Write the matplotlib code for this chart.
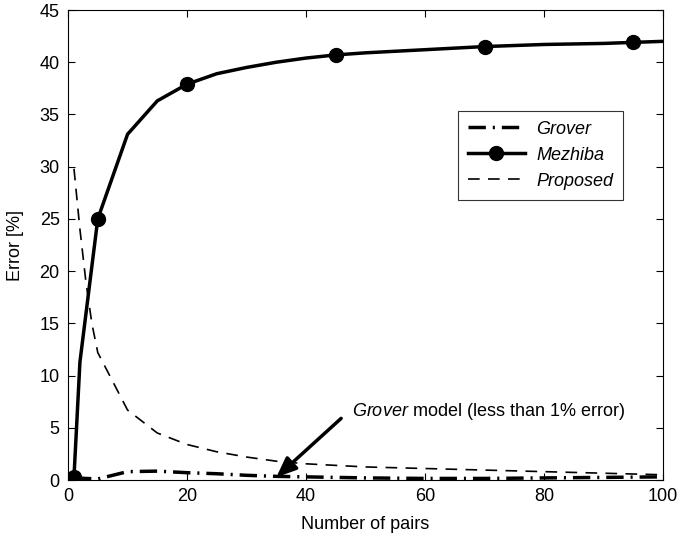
import matplotlib
matplotlib.use("Agg")
import matplotlib.pyplot as plt

plt.rcParams["font.family"] = ["Liberation Sans", "DejaVu Sans"]
plt.rcParams["mathtext.fontset"] = "custom"
plt.rcParams["mathtext.rm"] = "Liberation Sans"
plt.rcParams["mathtext.it"] = "Liberation Sans:italic"

# error vs number of pairs for the three models
mezhiba_x = [1, 2, 5, 10, 15, 20, 25, 30, 35, 40, 45, 50, 55, 60, 65, 70, 75, 80, 85, 90, 95, 100]
mezhiba_y = [0.3, 11.3, 25.0, 33.1, 36.3, 37.9, 38.9, 39.5, 40.0, 40.4, 40.7, 40.9, 41.05, 41.2,
             41.35, 41.5, 41.6, 41.7, 41.75, 41.8, 41.9, 42.0]
mezhiba_marked = [0, 2, 5, 10, 15, 20]

proposed_x = [1, 2, 3, 4, 5, 10, 15, 20, 25, 30, 35, 40, 50, 60, 70, 80, 90, 100]
proposed_y = [29.8, 24.0, 19.0, 15.0, 12.2, 6.7, 4.5, 3.4, 2.7, 2.2, 1.8, 1.55, 1.25, 1.1, 0.95,
              0.8, 0.65, 0.5]

grover_x = [1, 5, 10, 15, 20, 25, 30, 35, 40, 50, 60, 70, 80, 90, 100]
grover_y = [0.2, 0.1, 0.8, 0.85, 0.7, 0.6, 0.45, 0.35, 0.3, 0.2, 0.15, 0.15, 0.2, 0.25, 0.3]

fig = plt.figure(figsize=(6.81, 5.38), dpi=100)
ax = fig.add_axes([0.0999, 0.1078, 0.8737, 0.8736])

ax.plot(grover_x, grover_y, color="black", lw=2.5, dashes=(5, 2, 0.6, 2), label="Grover")
ax.plot(mezhiba_x, mezhiba_y, color="black", lw=2.5, marker="o", markersize=10,
        markevery=mezhiba_marked, label="Mezhiba")
ax.plot(proposed_x, proposed_y, color="black", lw=1.2, dashes=(7, 5), label="Proposed")

# arrow pointing at the Grover curve
ax.annotate("", xy=(35.0, 0.26), xytext=(45.9, 5.9),
            arrowprops=dict(arrowstyle="-|>,head_length=1.2,head_width=0.5",
                            color="black", lw=2.5, shrinkA=0, shrinkB=0))
ax.text(47.8, 6.6, r"$\it{Grover}$ model (less than 1% error)", fontsize=13,
        va="center", ha="left")

ax.set_xlim(0, 100)
ax.set_ylim(0, 45)
ax.set_xticks(range(0, 101, 20))
ax.set_yticks(range(0, 46, 5))
ax.tick_params(direction="in", top=True, right=True, labelsize=13, length=5, pad=6)
ax.set_xlabel("Number of pairs", fontsize=13, labelpad=8)
ax.set_ylabel("Error [%]", fontsize=13, labelpad=11)

leg = ax.legend(loc="upper right", bbox_to_anchor=(0.948, 0.805),
                prop={"style": "italic", "size": 13}, fancybox=False, edgecolor="black",
                handlelength=3.2, handletextpad=0.6, borderpad=0.55, labelspacing=0.5)
leg.get_frame().set_linewidth(0.8)

fig.savefig("out.png", dpi=100)
